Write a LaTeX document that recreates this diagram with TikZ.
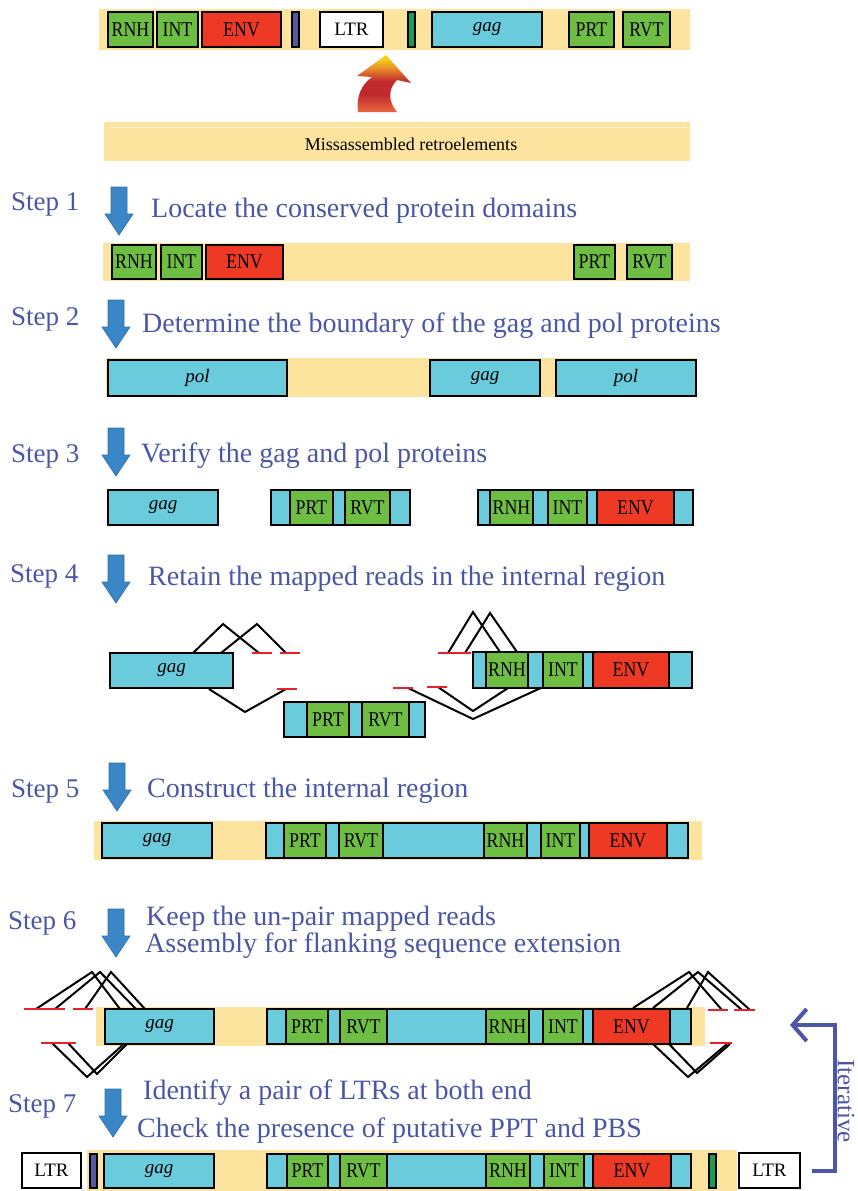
\documentclass[tikz,border=0pt]{standalone}
\usepackage{fontspec}
\setmainfont{Liberation Serif}
\newfontfamily\labelfont[FakeStretch=0.85]{Liberation Serif}
\usetikzlibrary{arrows.meta}

\definecolor{bandyellow}{HTML}{FCE49E}
\definecolor{domgreen}{HTML}{6FBE44}
\definecolor{domred}{HTML}{EE3A24}
\definecolor{domcyan}{HTML}{69CBDB}
\definecolor{stepblue}{HTML}{4B56A6}
\definecolor{arrowblue}{HTML}{3B86C6}
\definecolor{arrowedge}{HTML}{2F6EA6}
\definecolor{barpurple}{HTML}{5458A2}
\definecolor{bargreen}{HTML}{1D9C4B}
\definecolor{readred}{HTML}{E8202A}
\definecolor{arrowgold}{HTML}{F7D21A}
\definecolor{arroworange}{HTML}{E8892C}
\definecolor{arrowred}{HTML}{C02A2E}
\definecolor{arrowrust}{HTML}{E5603C}

\pgfdeclareverticalshading{upflame}{100bp}{color(0bp)=(arrowrust); color(27bp)=(arrowrust);
  color(40bp)=(arrowred); color(52bp)=(arrowred); color(63bp)=(arroworange);
  color(72bp)=(arrowgold); color(100bp)=(arrowgold)}

% name, x1, x2, y1, y2, style, label
\newcommand{\domainbox}[7]{%
  \node[#6, minimum width={(#3-#2)*1pt}, minimum height={(#5-#4)*1pt}]
    (#1) at ({(#2+#3)/2},{(#4+#5)/2}) {#7};}

\begin{document}
\begin{tikzpicture}[x=1pt, y=-1pt,
    dom/.style={draw=black, line width=2pt, inner sep=0pt, outer sep=0pt, font=\labelfont\fontsize{21}{21}\selectfont},
    gbox/.style={dom, fill=domgreen},
    rbox/.style={dom, fill=domred},
    cbox/.style={dom, fill=domcyan, font=\fontsize{19}{19}\selectfont\itshape},
    wbox/.style={dom, fill=white, font=\fontsize{19}{19}\selectfont},
    pbar/.style={dom, line width=1.2pt, fill=barpurple},
    gbar/.style={dom, line width=1.2pt, fill=bargreen},
    band/.style={fill=bandyellow, inner sep=0pt, outer sep=0pt},
    stepno/.style={text=stepblue, font=\fontsize{27}{27}\selectfont, anchor=west, inner sep=0pt},
    stepdo/.style={text=stepblue, font=\fontsize{28}{28}\selectfont, anchor=west, inner sep=0pt},
    read/.style={line width=2pt},
    mate/.style={line width=2.5pt, draw=readred},
    iterarrow/.style={draw=stepblue, line width=4pt, -{Straight Barb[length=14pt,width=32pt]}},
    downarr/.pic={\filldraw[fill=arrowblue, draw=arrowedge, line width=0.6pt]
        (-8,0) -- (8,0) -- (8,27) -- (14,27) -- (0,48) -- (-14,27) -- (-8,27) -- cycle;}
]
    \useasboundingbox (0,0) rectangle (857,1191);

    % misassembled input
    \domainbox{band0}{99}{690}{9}{50}{band}{}
    \foreach \nm/\a/\b/\lab in {rnh0/108/153/RNH, int0/157/198/INT, prt0/569/614/PRT, rvt0/623/670/RVT}
        {\domainbox{\nm}{\a}{\b}{12}{47}{gbox}{\lab}}
    \domainbox{env0}{202}{281}{12}{47}{rbox}{ENV}
    \domainbox{pbs0}{292}{299}{12}{47}{pbar}{}
    \domainbox{ltr0}{320}{383}{12}{47}{wbox}{LTR}
    \domainbox{ppt0}{408}{415}{12}{47}{gbar}{}
    \domainbox{gag0}{432}{542}{12}{47}{cbox}{gag}
    \shade[shading=upflame]
        (358,112) .. controls (356,97) and (361,85) .. (372,77) -- (357,76) -- (386,55)
        -- (411,83) -- (397,80) .. controls (389,88) and (387,100) .. (397,112) -- cycle;
    \domainbox{bandm}{104}{690}{122}{161}{band}{}
    \draw[white!55!bandyellow, line width=1pt] (109,127) -- (687,127);
    \node[font=\fontsize{18}{18}\selectfont] (miss) at (411,144) {Missassembled retroelements};

    % step 1
    \node[stepno] (st1) at (11,204) {Step 1};
    \pic at (119,187) {downarr};
    \node[stepdo] (do1) at (151,211) {Locate the conserved protein domains};
    \domainbox{band1}{103}{690}{243}{281}{band}{}
    \foreach \nm/\a/\b/\lab in {rnh1/112/156/RNH, int1/161/202/INT, prt1/574/615/PRT, rvt1/627/672/RVT}
        {\domainbox{\nm}{\a}{\b}{245}{279}{gbox}{\lab}}
    \domainbox{env1}{206}{283}{245}{279}{rbox}{ENV}

    % step 2
    \node[stepno] (st2) at (11,319) {Step 2};
    \pic at (116,300) {downarr};
    \node[stepdo] (do2) at (142,326) {Determine the boundary of the gag and pol proteins};
    \domainbox{band2}{106}{697}{358}{397}{band}{}
    \foreach \nm/\a/\b/\lab in {pol2a/108/287/pol, gag2/430/540/gag, pol2b/556/696/pol}
        {\domainbox{\nm}{\a}{\b}{360}{396}{cbox}{\lab}}

    % step 3
    \node[stepno] (st3) at (11,456) {Step 3};
    \pic at (116,428) {downarr};
    \node[stepdo] (do3) at (141,456) {Verify the gag and pol proteins};
    \domainbox{gag3}{108}{218}{490}{525}{cbox}{gag}
    \domainbox{pol3a}{271}{410}{490}{525}{cbox}{}
    \domainbox{pol3b}{478}{693}{490}{525}{cbox}{}
    \foreach \nm/\a/\b/\lab in {prt3/290/333/PRT, rvt3/345/390/RVT, rnh3/490/533/RNH, int3/548/587/INT}
        {\domainbox{\nm}{\a}{\b}{490}{525}{gbox}{\lab}}
    \domainbox{env3}{597}{674}{490}{525}{rbox}{ENV}

    % step 4
    \node[stepno] (st4) at (10,576) {Step 4};
    \pic at (116,555) {downarr};
    \node[stepdo] (do4) at (148,579) {Retain the mapped reads in the internal region};
    \foreach \a/\b/\c/\d/\e/\f in {193/653/223/624/259/653, 221/653/257/624/286/653, 209/689/245/712/286/689,
        448/653/473/612/500/652, 465/653/490/613/517/652, 408/688/473/719/543/687, 438/687/473/711/508/688}
        {\draw[read] (\a,\b) -- (\c,\d) -- (\e,\f);}
    \foreach \a/\b/\y in {252/272/653, 280/300/653, 277/297/689, 438/471/653, 393/413/688, 427/447/687}
        {\draw[mate] (\a,\y) -- (\b,\y);}
    \domainbox{gag4}{110}{233}{653}{688}{cbox}{gag}
    \domainbox{pol4a}{284}{425}{702}{737}{cbox}{}
    \domainbox{pol4b}{473}{692}{652}{688}{cbox}{}
    \domainbox{prt4}{307}{349}{702}{737}{gbox}{PRT}
    \domainbox{rvt4}{362}{409}{702}{737}{gbox}{RVT}
    \domainbox{rnh4}{486}{528}{652}{688}{gbox}{RNH}
    \domainbox{int4}{543}{583}{652}{688}{gbox}{INT}
    \domainbox{env4}{593}{669}{652}{688}{rbox}{ENV}

    % step 5
    \node[stepno] (st5) at (11,791) {Step 5};
    \pic at (117,763) {downarr};
    \node[stepdo] (do5) at (147,791) {Construct the internal region};
    \domainbox{band5}{94}{702}{821}{860}{band}{}
    \domainbox{gag5}{102}{212}{823}{858}{cbox}{gag}
    \domainbox{pol5}{266}{688}{823}{858}{cbox}{}
    \foreach \nm/\a/\b/\lab in {prt5/284/326/PRT, rvt5/339/383/RVT, rnh5/484/527/RNH, int5/541/580/INT}
        {\domainbox{\nm}{\a}{\b}{823}{858}{gbox}{\lab}}
    \domainbox{env5}{589}{667}{823}{858}{rbox}{ENV}

    % step 6
    \node[stepno] (st6) at (8,923) {Step 6};
    \pic at (116,909) {downarr};
    \node[stepdo] (do6a) at (146,919) {Keep the un-pair mapped reads};
    \node[stepdo] (do6b) at (145,946) {Assembly for flanking sequence extension};
    \domainbox{band6}{96}{705}{1007}{1046}{band}{}
    \foreach \a/\b/\c/\d/\e/\f in {36/1009/92/972/120/1009, 55/1009/100/972/136/1009, 85/1009/111/972/145/1009,
        52/1043/87/1077/125/1043, 68/1043/97/1074/128/1043,
        633/1008/689/972/722/1010, 653/1008/698/972/742/1010, 687/1008/708/972/750/1010,
        653/1044/688/1077/727/1044, 669/1044/697/1073/730/1044}
        {\draw[read] (\a,\b) -- (\c,\d) -- (\e,\f);}
    \foreach \a/\b/\y in {24/65/1009, 73/93/1009, 41/76/1043, 708/728/1010, 734/755/1010, 710/732/1043}
        {\draw[mate] (\a,\y) -- (\b,\y);}
    \domainbox{gag6}{105}{214}{1009}{1044}{cbox}{gag}
    \domainbox{pol6}{267}{691}{1009}{1044}{cbox}{}
    \foreach \nm/\a/\b/\lab in {prt6/286/328/PRT, rvt6/340/387/RVT, rnh6/486/529/RNH, int6/543/583/INT}
        {\domainbox{\nm}{\a}{\b}{1009}{1044}{gbox}{\lab}}
    \domainbox{env6}{593}{670}{1009}{1044}{rbox}{ENV}

    % step 7
    \node[stepno] (st7) at (8,1106) {Step 7};
    \pic at (113,1089) {downarr};
    \node[stepdo] (do7a) at (143,1093) {Identify a pair of LTRs at both end};
    \node[stepdo] (do7b) at (137,1131) {Check the presence of putative PPT and PBS};
    \domainbox{band7}{87}{737}{1150}{1191}{band}{}
    \domainbox{ltr7a}{22}{81}{1153}{1188}{wbox}{LTR}
    \domainbox{pbs7}{90}{97}{1154}{1188}{pbar}{}
    \domainbox{gag7}{104}{214}{1154}{1188}{cbox}{gag}
    \domainbox{pol7}{267}{691}{1154}{1188}{cbox}{}
    \foreach \nm/\a/\b/\lab in {prt7/287/328/PRT, rvt7/340/387/RVT, rnh7/486/530/RNH, int7/544/584/INT}
        {\domainbox{\nm}{\a}{\b}{1154}{1188}{gbox}{\lab}}
    \domainbox{env7}{593}{671}{1154}{1188}{rbox}{ENV}
    \domainbox{ppt7}{709}{716}{1154}{1188}{gbar}{}
    \domainbox{ltr7b}{739}{800}{1153}{1188}{wbox}{LTR}

    % iterate back to step 6
    \coordinate (itertip) at (790,1025);
    \draw[iterarrow] ([xshift=12pt]ltr7b.east) -| (835,1025) -- (itertip);
    \node[stepdo, anchor=center, rotate=-90, font=\fontsize{25}{25}\selectfont] (iter) at (846,1101) {Iterative};
\end{tikzpicture}
\end{document}
